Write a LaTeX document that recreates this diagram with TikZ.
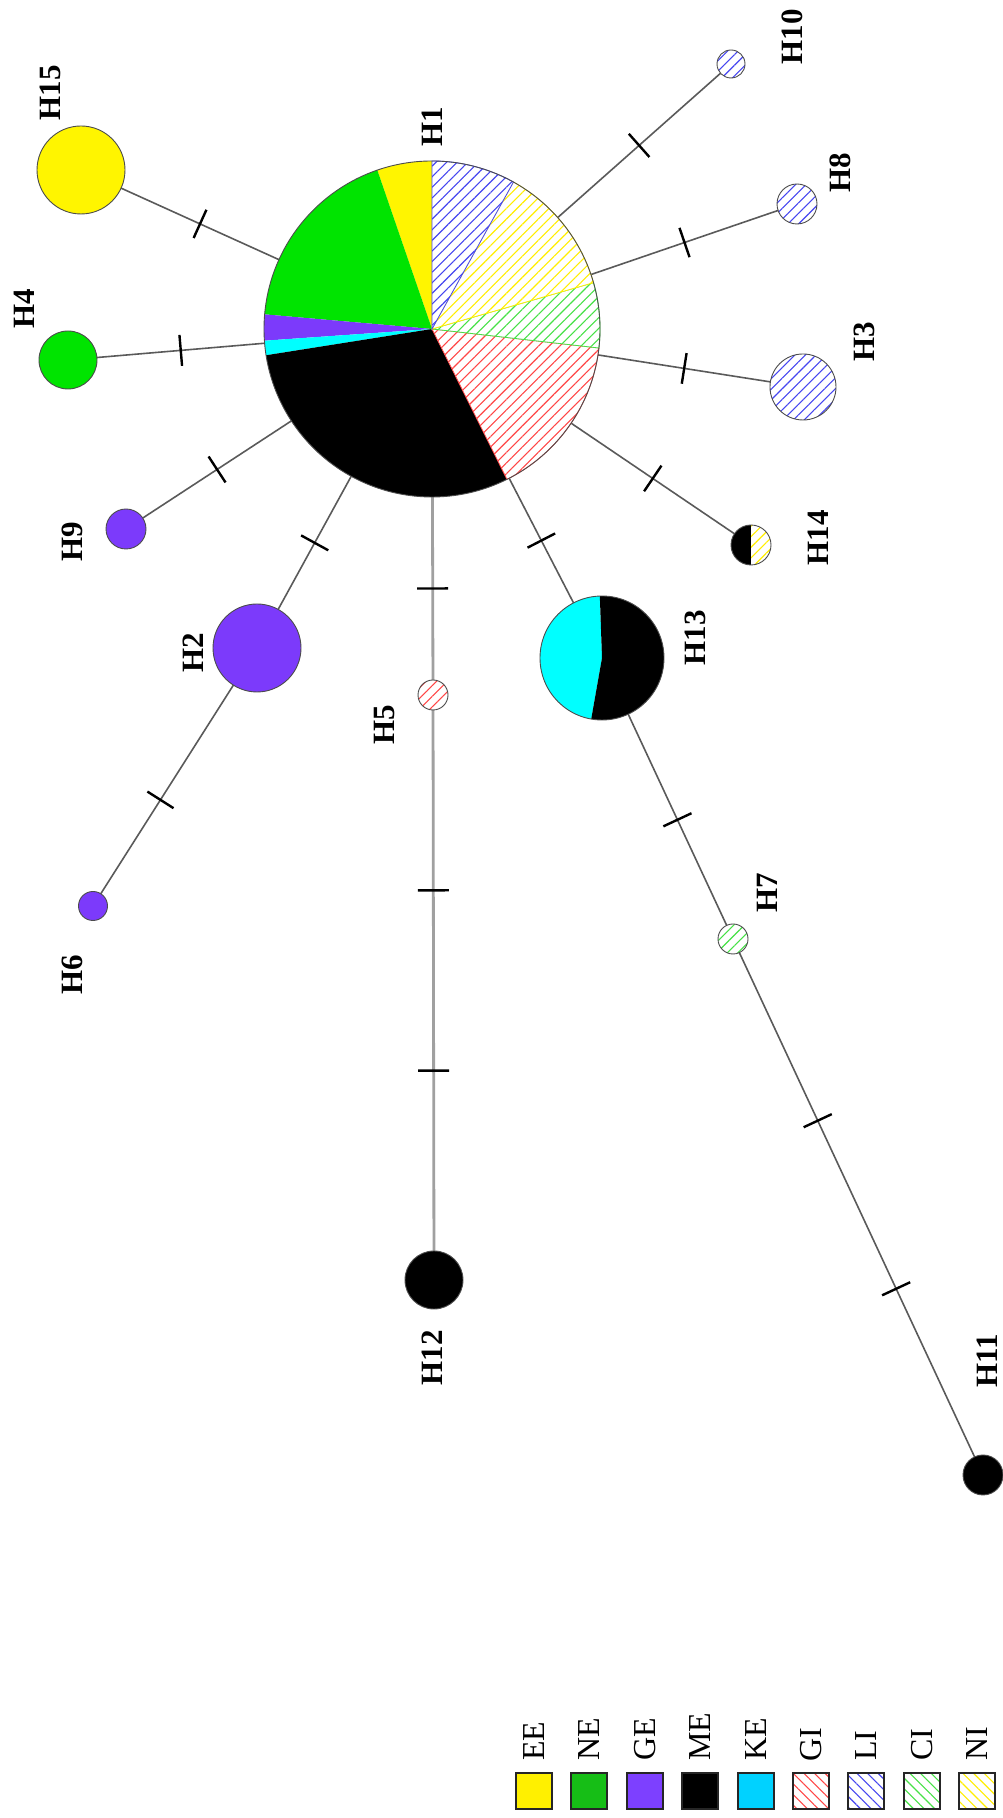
\documentclass[tikz,border=0pt]{standalone}
\usepackage{fontspec}
\setmainfont{Liberation Serif}
\usetikzlibrary{patterns.meta,backgrounds}

% fill colours of the haplotype circles
\definecolor{pYel}{RGB}{255,245,0}
\definecolor{pGrn}{RGB}{0,228,0}
\definecolor{pPur}{RGB}{124,58,251}
\definecolor{pCya}{RGB}{0,255,255}
% legend swatches
\definecolor{lYel}{RGB}{255,240,0}
\definecolor{lGrn}{RGB}{22,190,22}
\definecolor{lPur}{RGB}{125,64,255}
\definecolor{lCya}{RGB}{0,210,255}
% hatch colours
\definecolor{hRed}{RGB}{255,70,70}
\definecolor{hBlu}{RGB}{70,70,240}
\definecolor{hGrn}{RGB}{70,225,70}
\definecolor{hYel}{RGB}{255,238,0}
% connector greys
\definecolor{edgeG}{RGB}{90,90,90}
\definecolor{edgeL}{RGB}{160,160,160}

\tikzset{
  hap/.style={circle, inner sep=0pt, outer sep=0pt, minimum size=#1, draw=black!70, line width=0.9pt},
  hatchNE/.style={preaction={fill=white}, pattern={Lines[angle=45,distance=7.5pt,line width=1.1pt]}, pattern color=#1},
  hatchNW/.style={preaction={fill=white}, pattern={Lines[angle=-45,distance=7.5pt,line width=1.1pt]}, pattern color=#1},
  edge/.style={draw=edgeG, line width=1.6pt},
  edgelight/.style={draw=edgeL, line width=2.8pt},
  tickm/.style={sloped, fill=black, inner sep=0pt, outer sep=0pt, minimum width=2.4pt, minimum height=31pt},
  hlab/.style={rotate=90, inner sep=0pt, font=\fontsize{31}{36}\bfseries\selectfont},
  lbox/.style={draw=black!85, line width=2pt, minimum size=36pt, inner sep=0pt},
  llab/.style={rotate=90, inner sep=0pt, anchor=west, font=\fontsize{32}{38}\selectfont},
}

% one slice of a pie: centre, radius, start angle, end angle, style
\newcommand\hpslice[5]{%
  \path[#5] (#1) -- ++(#3:#2) arc[start angle=#3, end angle=#4, radius=#2] -- cycle;}

\begin{document}
\begin{tikzpicture}[x=1pt, y=1pt]
\useasboundingbox (0,0) rectangle (1003,1818);

% ---------- haplotype circles ----------
\node[hap=336pt, draw=none] (h1) at (432,1489) {};
\node[hap=88pt, fill=pYel] (h15) at (81,1648) {};
\node[hap=58pt, fill=pGrn] (h4) at (68,1458) {};
\node[hap=40pt, fill=pPur] (h9) at (126,1289) {};
\node[hap=88pt, fill=pPur] (h2) at (257,1170) {};
\node[hap=29pt, fill=pPur] (h6) at (93,912) {};
\node[hap=30pt, hatchNE=hRed] (h5) at (433,1123) {};
\node[hap=58pt, fill=black] (h12) at (434,538) {};
\node[hap=124pt, draw=none] (h13) at (602,1160) {};
\node[hap=30pt, hatchNE=hGrn] (h7) at (733,879) {};
\node[hap=40pt, fill=black] (h11) at (983,343) {};
\node[hap=40pt, draw=none] (h14) at (751,1273) {};
\node[hap=66pt, hatchNE=hBlu] (h3) at (803,1431) {};
\node[hap=40pt, hatchNE=hBlu] (h8) at (797,1614) {};
\node[hap=28pt, hatchNE=hBlu] (h10) at (731,1754) {};

% H1 pie
\hpslice{h1.center}{168}{90}{109}{fill=pYel}
\hpslice{h1.center}{168}{109}{175}{fill=pGrn}
\hpslice{h1.center}{168}{175}{184}{fill=pPur}
\hpslice{h1.center}{168}{184}{189}{fill=pCya}
\hpslice{h1.center}{168}{189}{296.5}{fill=black}
\hpslice{h1.center}{168}{296.5}{353.5}{hatchNE=hRed, draw=hRed, line width=0.8pt}
\hpslice{h1.center}{168}{353.5}{376}{hatchNE=hGrn, draw=hGrn, line width=0.8pt}
\hpslice{h1.center}{168}{376}{421}{hatchNE=hYel, draw=hYel, line width=0.8pt}
\hpslice{h1.center}{168}{421}{450}{hatchNE=hBlu, draw=hBlu, line width=0.8pt}
\draw[black!70, line width=0.9pt] (h1.center) circle[radius=168];

% H13 pie
\hpslice{h13.center}{62}{92}{260}{fill=pCya}
\hpslice{h13.center}{62}{260}{452}{fill=black}
\draw[black!70, line width=0.9pt] (h13.center) circle[radius=62];

% H14 pie
\hpslice{h14.center}{20}{90}{270}{fill=black}
\hpslice{h14.center}{20}{270}{450}{hatchNE=hYel}
\draw[black!70, line width=0.9pt] (h14.center) circle[radius=20];

% ---------- connectors with mutation ticks ----------
\begin{pgfonlayer}{background}
\draw[edge] (h1) -- (h15) node[tickm, pos=.5] {};
\draw[edge] (h1) -- (h4) node[tickm, pos=.5] {};
\draw[edge] (h1) -- (h9) node[tickm, pos=.5] {};
\draw[edge] (h1) -- (h2) node[tickm, pos=.5] {};
\draw[edge] (h2) -- (h6) node[tickm, pos=.55] {};
\draw[edgelight] (h1) -- (h5) node[tickm, pos=.5] {};
\draw[edgelight] (h5) -- (h12) node[tickm, pos=1/3] {} node[tickm, pos=2/3] {};
\draw[edge] (h1) -- (h13) node[tickm, pos=.5] {};
\draw[edge] (h13) -- (h7) node[tickm, pos=.5] {};
\draw[edge] (h7) -- (h11) node[tickm, pos=1/3] {} node[tickm, pos=2/3] {};
\draw[edge] (h1) -- (h14) node[tickm, pos=.5] {};
\draw[edge] (h1) -- (h3) node[tickm, pos=.5] {};
\draw[edge] (h1) -- (h8) node[tickm, pos=.5] {};
\draw[edge] (h1) -- (h10) node[tickm, pos=.5] {};
\end{pgfonlayer}

% ---------- haplotype labels ----------
\node[hlab] (l1) at (432,1691) {H1};
\node[hlab] (l15) at (50,1725) {H15};
\node[hlab] (l4) at (24,1509) {H4};
\node[hlab] (l9) at (72,1276) {H9};
\node[hlab] (l2) at (193,1165) {H2};
\node[hlab] (l6) at (72,843) {H6};
\node[hlab] (l5) at (384,1093) {H5};
\node[hlab] (l12) at (432,460) {H12};
\node[hlab] (l13) at (695,1180) {H13};
\node[hlab] (l7) at (767,925) {H7};
\node[hlab] (l11) at (987,457) {H11};
\node[hlab] (l14) at (818,1280) {H14};
\node[hlab] (l3) at (864,1476) {H3};
\node[hlab] (l8) at (840,1645) {H8};
\node[hlab] (l10) at (792,1781) {H10};

% ---------- legend ----------
\node[lbox, fill=lYel] (kEE) at (534,27) {};
\node[lbox, fill=lGrn] (kNE) at (589.4,27) {};
\node[lbox, fill=lPur] (kGE) at (644.8,27) {};
\node[lbox, fill=black] (kME) at (700.2,27) {};
\node[lbox, fill=lCya] (kKE) at (755.6,27) {};
\node[lbox, hatchNW=hRed] (kGI) at (811,27) {};
\node[lbox, hatchNW=hBlu] (kLI) at (866.4,27) {};
\node[lbox, hatchNW=hGrn] (kCI) at (921.8,27) {};
\node[lbox, hatchNW=hYel] (kNI) at (977.2,27) {};
\foreach \k in {EE,NE,GE,ME,KE,GI,LI,CI,NI}
  \node[llab] (t\k) at ([yshift=11pt]k\k.north) {\k};
\end{tikzpicture}
\end{document}
